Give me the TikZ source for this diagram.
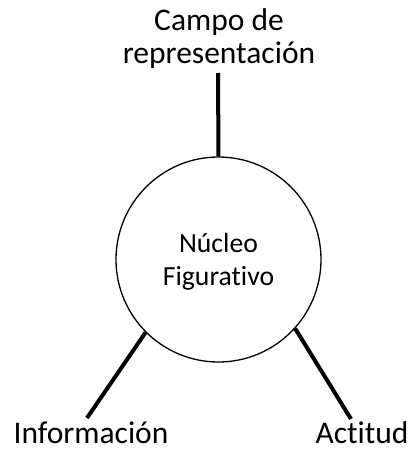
\documentclass[tikz,border=0pt]{standalone}
\usepackage{fontspec}
\setmainfont[Ligatures=NoCommon]{Carlito}
\begin{document}
\begin{tikzpicture}[x=1pt,y=-1pt,
  spoke/.style={line width=4pt},
  outer/.style={inner sep=0pt,font=\fontsize{31.5}{32.6}\selectfont,align=center},
  inner/.style={inner sep=0pt,font=\fontsize{27.7}{33}\selectfont,align=center}]
\useasboundingbox[fill=white] (0,0) rectangle (414,456);
\node[circle,draw,line width=1.3pt,minimum size=205pt,inner sep=0pt] (core) at (218.5,259.5) {};
\node[inner,anchor=base] (coretext) at (218.5,285) {Núcleo\\Figurativo};
\node[outer,anchor=base] (campo) at (219,63) {Campo de\\representación};
\node[outer,anchor=base] (info) at (91,443) {Información};
\node[outer,anchor=base] (acti) at (362,443) {Actitud};
\coordinate (topend) at (218,73);
\coordinate (leftend) at (87,418);
\coordinate (rightend) at (351,419);
\draw[spoke] (core.north) -- (topend);
\draw[spoke] (core.-135) -- (leftend);
\draw[spoke] (core.-42.5) -- (rightend);
\end{tikzpicture}
\end{document}
